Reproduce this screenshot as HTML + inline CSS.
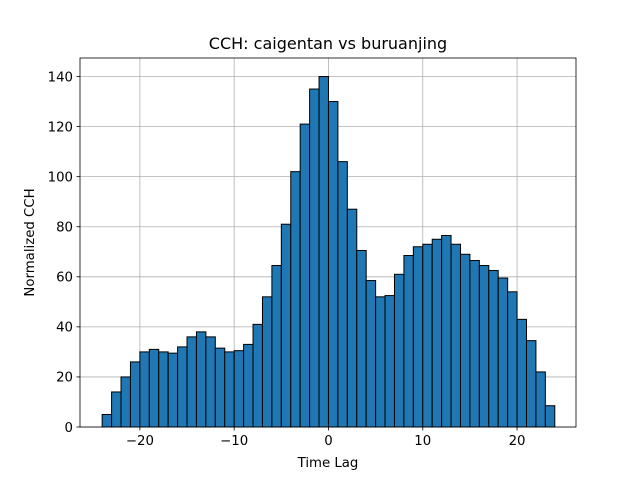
<!DOCTYPE html>
<html><head><meta charset="utf-8"><style>
body{margin:0;background:#fff;font-family:"Liberation Sans","DejaVu Sans",sans-serif}
svg text{font-family:"DejaVu Sans","Liberation Sans",sans-serif;fill:#000}
</style></head><body>
<svg id="c" width="640" height="480"></svg>
<script>
const lagEdgesLeft=[-24,-23,-22,-21,-20,-19,-18,-17,-16,-15,-14,-13,-12,-11,-10,-9,-8,-7,-6,-5,-4,-3,-2,-1,0,1,2,3,4,5,6,7,8,9,10,11,12,13,14,15,16,17,18,19,20,21,22,23];
const lagEdgesRight=[-23,-22,-21,-20,-19,-18,-17,-16,-15,-14,-13,-12,-11,-10,-9,-8,-7,-6,-5,-4,-3,-2,-1,0,1,2,3,4,5,6,7,8,9,10,11,12,13,14,15,16,17,18,19,20,21,22,23,24];
const cchValues=[5,14,20,26,30,31,30,29.5,32,36,38,36,31.5,30,30.5,33,41,52,64.5,81,102,121,135,140,130,106,87,70.5,58.5,52,52.5,61,68.5,72,73,75,76.5,73,69,66.5,64.5,62.5,59.5,54,43,34.5,22,8.5];
const xTicks=[-20,-10,0,10,20];
const xTickLabels=["\u221220","\u221210","0","10","20"];
const yTicks=[0,20,40,60,80,100,120,140];
const L=80,R=576,T=58,B=427,XMIN=-26.35,XMAX=26.25,YMAX=147.4;
const X=v=>L+(v-XMIN)/(XMAX-XMIN)*(R-L);
const Y=v=>B-v/YMAX*(B-T);
const svg=document.getElementById('c');
const NS='http://www.w3.org/2000/svg';
function mk(t,a,p){const e=document.createElementNS(NS,t);for(const k in a)e.setAttribute(k,a[k]);(p||svg).appendChild(e);return e;}
const grid=mk('g',{});


xTicks.forEach(v=>{mk('line',{x1:X(v),x2:X(v),y1:T,y2:B,stroke:'#b0b0b0','stroke-width':0.8},grid);});
yTicks.forEach(v=>{mk('line',{x1:L,x2:R,y1:Y(v),y2:Y(v),stroke:'#b0b0b0','stroke-width':0.8},grid);});
const bars=mk('g',{});


cchValues.forEach((v,i)=>{
 const r=mk('rect',{x:X(lagEdgesLeft[i]),y:Y(v),width:X(lagEdgesRight[i])-X(lagEdgesLeft[i]),height:B-Y(v),fill:'#1f77b4',stroke:'#000','stroke-width':1},bars);
 
 
});
const frame=mk('rect',{x:L,y:T,width:R-L,height:B-T,fill:'none',stroke:'#000','stroke-width':0.8});


xTicks.forEach((v,i)=>{
 mk('line',{x1:X(v),x2:X(v),y1:B,y2:B+3.5,stroke:'#000','stroke-width':0.8});
 const t=mk('text',{x:X(v),y:B+18,'text-anchor':'middle','font-size':13.3});
 t.textContent=xTickLabels[i];
 
 
});
yTicks.forEach(v=>{
 mk('line',{x1:L-3.5,x2:L,y1:Y(v),y2:Y(v),stroke:'#000','stroke-width':0.8});
 const t=mk('text',{x:L-7,y:Y(v)+4.8,'text-anchor':'end','font-size':13.3});
 t.textContent=v;
 
 
});
const xt=mk('text',{x:(L+R)/2,y:467,'text-anchor':'middle','font-size':13.3});
xt.textContent='Time Lag';


const yt=mk('text',{x:0,y:0,'text-anchor':'middle','font-size':13.3,transform:`translate(34,${(T+B)/2}) rotate(-90)`});
yt.textContent='Normalized CCH';


const ti=mk('text',{x:(L+R)/2,y:49,'text-anchor':'middle','font-size':16});
ti.textContent='CCH: caigentan vs buruanjing';


</script>
</body></html>
